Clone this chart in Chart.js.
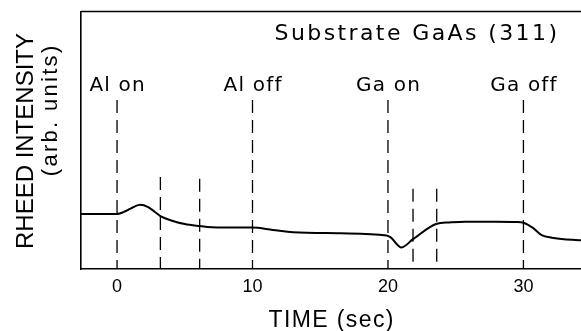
<!DOCTYPE html>
<html>
<head>
<meta charset="utf-8">
<script src="https://cdn.jsdelivr.net/npm/chart.js@4.4.1/dist/chart.umd.min.js"></script>
<style>
  html, body { margin: 0; padding: 0; background: #fff; }
  #wrap { width: 581px; height: 331px; }
</style>
</head>
<body>
<div id="wrap"><canvas id="chart" width="581" height="331"></canvas></div>
<script>
/* ---------- data ---------- */
// RHEED trace: time (s) and intensity (arb. units, 0..100 = axis to frame top)
const curveTime      = [-2.7, -1, 0, 0.5, 1.0, 1.7, 2.3, 2.8, 3.2, 4.0, 5.0, 6.1, 7, 8, 10, 11.5, 13, 16.5, 19.9, 20.2, 21.0, 21.85, 23.6, 24.5, 25.7, 28, 29.5, 30, 30.7, 31.35, 32.1, 33, 34.3];
const curveIntensity = [21.4, 21.4, 21.4, 22.2, 23.5, 25.0, 24.1, 22.2, 20.6, 18.9, 17.5, 16.7, 16.2, 16.1, 16.1, 15.2, 14.3, 13.9, 13.0, 12.3, 8.4, 11.6, 17.6, 18.1, 18.4, 18.4, 18.3, 18.0, 16.0, 13.2, 12.2, 11.6, 11.2];

// shutter events (long dashed lines with labels)
const markerTimes  = [0, 10, 20, 30];
const markerLabels = ['Al on', 'Al off', 'Ga on', 'Ga off'];
const markerTops   = [65.8, 65.8, 65.8, 65.8];

// short dashed lines
const shortMarkerTimes = [3.2, 6.1, 21.85, 23.6];
const shortMarkerTops  = [35.8, 35.1, 31.2, 31.2];

const timeTicks = [0, 10, 20, 30];
const titleText = 'Substrate GaAs (311)';
const xTitle    = 'TIME (sec)';
const yTitle    = ['RHEED INTENSITY', '(arb. units)'];

/* ---------- datasets ---------- */
const dashStyle = { borderColor: '#000', borderWidth: 1.3, borderDash: [13, 7], pointRadius: 0, fill: false };

// dashed line drawn top -> axis so the pattern starts with a dash at the top
function vLine(t, top) {
    return Object.assign({ data: [{ x: t, y: top }, { x: t, y: 0 }] }, dashStyle);
}

const datasets = [
    {
        data: curveTime.map((t, i) => ({ x: t, y: curveIntensity[i] })),
        borderColor: '#000',
        borderWidth: 2,
        pointRadius: 0,
        cubicInterpolationMode: 'monotone',
        fill: false
    },
    ...markerTimes.map((t, i) => vLine(t, markerTops[i])),
    ...shortMarkerTimes.map((t, i) => vLine(t, shortMarkerTops[i]))
];

/* ---------- text helper: letter-spaced text ---------- */
function drawSpaced(ctx, text, x, y, spacing, align) {
    const widths = [...text].map(ch => ctx.measureText(ch).width);
    const total  = widths.reduce((a, b) => a + b, 0) + spacing * (text.length - 1);
    let cx = align === 'center' ? x - total / 2 : align === 'right' ? x - total : x;
    ctx.textAlign = 'left';
    [...text].forEach((ch, i) => {
        ctx.fillText(ch, cx, y);
        cx += widths[i] + spacing;
    });
}

const textPlugin = {
    id: 'textPlugin',
    afterDraw(chart) {
        const ctx  = chart.ctx;
        const area = chart.chartArea;
        const xs   = chart.scales.x;
        ctx.save();

        // top frame line
        ctx.strokeStyle = '#000';
        ctx.lineWidth = 1.3;
        ctx.beginPath();
        ctx.moveTo(area.left, area.top - 0.5);
        ctx.lineTo(area.right, area.top - 0.5);
        ctx.stroke();

        ctx.fillStyle = '#000';
        ctx.textBaseline = 'alphabetic';

        // title inside the frame
        ctx.font = '22px "DejaVu Sans"';
        drawSpaced(ctx, titleText, area.right - 24, area.top + 28, 2.4, 'right');

        // event labels
        ctx.font = '20px "DejaVu Sans"';
        markerTimes.forEach((t, i) => {
            drawSpaced(ctx, markerLabels[i], xs.getPixelForValue(t), area.top + 79, 1.2, 'center');
        });

        // x title
        ctx.font = '23px "Liberation Sans"';
        drawSpaced(ctx, xTitle, (area.left + area.right) / 2, 327, 1.4, 'center');

        // y titles (rotated)
        ctx.save();
        ctx.translate(33, 141);
        ctx.rotate(-Math.PI / 2);
        ctx.font = '24px "Liberation Sans"';
        drawSpaced(ctx, yTitle[0], 0, 0, 0, 'center');
        ctx.restore();

        ctx.save();
        ctx.translate(57, 111);
        ctx.rotate(-Math.PI / 2);
        ctx.font = '22px "Liberation Sans"';
        drawSpaced(ctx, yTitle[1], 0, 0, 2.3, 'center');
        ctx.restore();

        ctx.restore();
    }
};

/* ---------- chart ---------- */
new Chart(document.getElementById('chart'), {
    type: 'line',
    data: { datasets },
    options: {
        responsive: false,
        animation: false,
        devicePixelRatio: 1,
        layout: { padding: { left: 81, top: 12, right: 0, bottom: 0 } },
        plugins: { legend: { display: false }, tooltip: { enabled: false } },
        scales: {
            x: {
                type: 'linear',
                min: -2.66,
                max: 34.25,
                afterBuildTicks: s => { s.ticks = timeTicks.map(v => ({ value: v })); },
                afterFit: s => { s.height = 62; },
                ticks: {
                    color: '#000',
                    font: { family: 'Liberation Sans', size: 18 },
                    padding: 7,
                    maxRotation: 0,
                    autoSkip: false
                },
                grid: { display: false, drawTicks: false },
                border: { display: true, color: '#000', width: 1.6 }
            },
            y: {
                min: 0,
                max: 100,
                afterFit: s => { s.width = 0; },
                ticks: { display: false },
                grid: { display: false, drawTicks: false },
                border: { display: true, color: '#000', width: 1.6 }
            }
        }
    },
    plugins: [textPlugin]
});
</script>
</body>
</html>
